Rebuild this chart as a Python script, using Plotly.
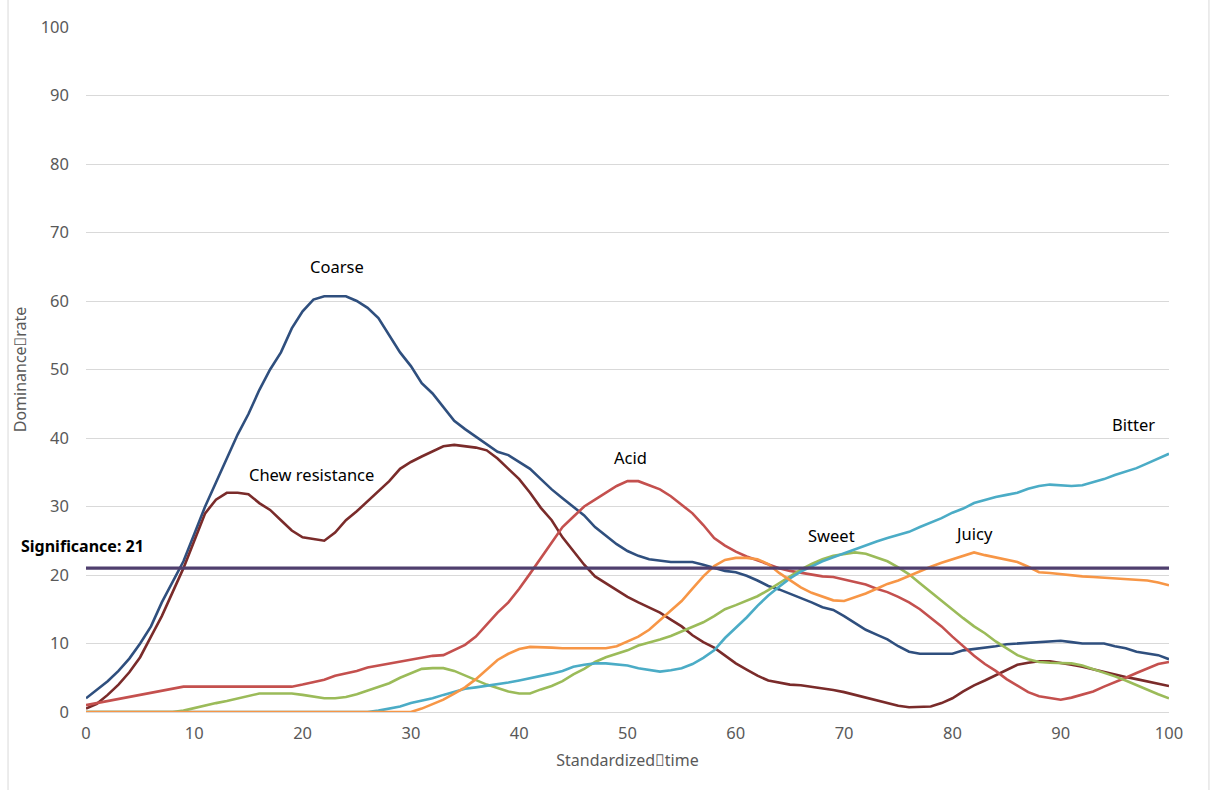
import plotly.graph_objects as go

# Standardized time axis (0..100, one sample per unit)
time = list(range(101))

coarse = [2.0, 3.2, 4.5, 6.0, 7.8, 10.0, 12.5, 16.0, 19.0, 22.0,
          26.0, 30.0, 33.5, 37.0, 40.5, 43.5, 47.0, 50.0, 52.5, 56.0,
          58.5, 60.2, 60.7, 60.7, 60.7, 60.0, 59.0, 57.5, 55.0, 52.5,
          50.5, 48.0, 46.5, 44.5, 42.5, 41.3, 40.2, 39.0, 38.0, 37.5,
          36.5, 35.5, 34.0, 32.5, 31.2, 30.0, 28.7, 27.0, 25.8, 24.5,
          23.5, 22.8, 22.3, 22.1, 21.9, 21.9, 21.9, 21.5, 21.0, 20.6,
          20.4, 19.9, 19.2, 18.4, 17.9, 17.3, 16.7, 16.0, 15.3, 14.9,
          14.0, 13.0, 12.0, 11.3, 10.6, 9.6, 8.8, 8.5, 8.5, 8.5,
          8.5, 9.0, 9.2, 9.3, 9.6, 9.9, 10.0, 10.2, 10.3, 10.4,
          10.4, 10.2, 10.0, 10.0, 10.0, 9.6, 9.3, 8.8, 8.6, 8.3,
          7.7]

chew_resistance = [0.5, 1.2, 2.5, 4.0, 5.8, 8.0, 11.0, 14.0, 17.5, 21.0,
                   25.0, 29.0, 31.0, 32.0, 32.0, 31.8, 30.5, 29.5, 28.0, 26.5,
                   25.5, 25.3, 25.0, 26.2, 28.0, 29.3, 30.8, 32.3, 33.7, 35.5,
                   36.5, 37.3, 38.0, 38.8, 39.0, 38.8, 38.6, 38.2, 37.0, 35.5,
                   34.0, 32.0, 29.8, 28.0, 25.5, 23.5, 21.5, 19.8, 18.8, 17.8,
                   16.8, 16.0, 15.2, 14.5, 13.5, 12.5, 11.2, 10.2, 9.4, 8.3,
                   7.1, 6.2, 5.3, 4.6, 4.3, 4.0, 3.9, 3.7, 3.4, 3.2,
                   2.9, 2.5, 2.1, 1.7, 1.3, 0.9, 0.7, 0.7, 0.8, 1.3,
                   2.0, 3.0, 3.9, 4.6, 5.4, 6.2, 6.9, 7.2, 7.4, 7.4,
                   7.2, 6.9, 6.6, 6.2, 5.8, 5.4, 5.1, 4.8, 4.5, 4.1,
                   3.8]

acid = [1.0, 1.3, 1.6, 1.9, 2.2, 2.5, 2.8, 3.2, 3.5, 3.7,
        3.7, 3.7, 3.7, 3.7, 3.7, 3.7, 3.7, 3.7, 3.7, 3.7,
        4.0, 4.3, 4.7, 5.3, 5.6, 6.0, 6.5, 6.8, 7.0, 7.3,
        7.7, 8.0, 8.2, 8.3, 9.0, 9.8, 11.0, 12.7, 14.5, 16.0,
        18.0, 20.2, 22.5, 24.8, 27.0, 28.5, 30.0, 31.0, 32.0, 33.0,
        33.7, 33.7, 33.1, 32.5, 31.5, 30.2, 29.0, 27.3, 25.4, 24.3,
        23.4, 22.7, 22.1, 21.5, 21.0, 20.6, 20.3, 20.0, 19.8, 19.7,
        19.3, 19.0, 18.6, 18.0, 17.5, 16.8, 16.0, 15.0, 13.8, 12.5,
        11.0, 9.6, 8.2, 7.0, 6.0, 4.8, 3.8, 2.9, 2.3, 2.0,
        1.8, 2.1, 2.5, 3.0, 3.7, 4.3, 5.0, 5.7, 6.3, 7.0,
        7.3]

sweet = [0.0, 0.0, 0.0, 0.0, 0.0, 0.0, 0.0, 0.0, 0.0, 0.2,
         0.6, 1.0, 1.3, 1.6, 2.0, 2.4, 2.7, 2.7, 2.7, 2.7,
         2.5, 2.2, 2.0, 2.0, 2.2, 2.6, 3.1, 3.6, 4.2, 5.0,
         5.7, 6.3, 6.4, 6.4, 6.0, 5.3, 4.6, 4.0, 3.5, 3.0,
         2.7, 2.7, 3.3, 3.8, 4.5, 5.5, 6.3, 7.3, 8.0, 8.5,
         9.0, 9.7, 10.1, 10.6, 11.1, 11.8, 12.5, 13.1, 14.0, 15.0,
         15.6, 16.3, 16.9, 17.8, 18.8, 19.8, 20.8, 21.6, 22.3, 22.8,
         23.1, 23.3, 23.1, 22.6, 22.0, 21.1, 20.1, 18.8, 17.5, 16.3,
         15.0, 13.7, 12.5, 11.5, 10.3, 9.3, 8.3, 7.7, 7.3, 7.2,
         7.2, 7.1, 6.8, 6.3, 5.8, 5.2, 4.6, 3.9, 3.3, 2.6,
         2.0]

bitter = [0.0, 0.0, 0.0, 0.0, 0.0, 0.0, 0.0, 0.0, 0.0, 0.0,
          0.0, 0.0, 0.0, 0.0, 0.0, 0.0, 0.0, 0.0, 0.0, 0.0,
          0.0, 0.0, 0.0, 0.0, 0.0, 0.0, 0.0, 0.2, 0.5, 0.8,
          1.3, 1.6, 2.0, 2.5, 2.9, 3.4, 3.6, 3.8, 4.0, 4.3,
          4.6, 4.9, 5.3, 5.6, 6.0, 6.6, 6.9, 7.1, 7.1, 7.0,
          6.8, 6.4, 6.1, 5.9, 6.1, 6.4, 7.0, 7.9, 9.0, 10.8,
          12.3, 13.8, 15.5, 17.0, 18.3, 19.5, 20.5, 21.3, 22.0, 22.6,
          23.2, 23.8, 24.4, 24.9, 25.4, 25.8, 26.3, 27.0, 27.6, 28.3,
          29.1, 29.7, 30.5, 31.0, 31.4, 31.7, 32.0, 32.6, 33.0, 33.2,
          33.1, 33.0, 33.1, 33.5, 34.0, 34.6, 35.1, 35.6, 36.3, 37.0,
          37.7]

juicy = [0.0, 0.0, 0.0, 0.0, 0.0, 0.0, 0.0, 0.0, 0.0, 0.0,
         0.0, 0.0, 0.0, 0.0, 0.0, 0.0, 0.0, 0.0, 0.0, 0.0,
         0.0, 0.0, 0.0, 0.0, 0.0, 0.0, 0.0, 0.0, 0.0, 0.0,
         0.0, 0.5, 1.2, 1.8, 2.7, 3.6, 4.8, 6.2, 7.6, 8.5,
         9.2, 9.5, 9.5, 9.4, 9.3, 9.3, 9.3, 9.3, 9.3, 9.6,
         10.3, 11.0, 12.0, 13.4, 14.7, 16.2, 18.0, 19.8, 21.3, 22.2,
         22.5, 22.5, 22.3, 21.6, 20.3, 19.2, 18.2, 17.4, 16.8, 16.3,
         16.2, 16.7, 17.3, 18.0, 18.7, 19.2, 19.9, 20.5, 21.2, 21.8,
         22.3, 22.9, 23.3, 22.9, 22.6, 22.3, 21.9, 21.2, 20.4, 20.3,
         20.1, 19.9, 19.8, 19.7, 19.6, 19.5, 19.5, 19.4, 19.2, 18.9,
         18.5]

significance = 21

series = [
    ("Coarse", coarse, "#2F4F7E"),
    ("Chew resistance", chew_resistance, "#7A2B2A"),
    ("Acid", acid, "#C4504E"),
    ("Sweet", sweet, "#9BBB59"),
    ("Bitter", bitter, "#4BACC6"),
    ("Juicy", juicy, "#F79646"),
]

# Curve name labels placed near each curve (data coordinates)
label_text = ["Coarse", "Chew resistance", "Acid", "Sweet", "Juicy", "Bitter"]
label_x = [23.2, 20.8, 50.3, 68.8, 82.0, 96.7]
label_y = [65.0, 34.7, 37.1, 25.8, 26.1, 41.9]

fig = go.Figure()
for name, vals, color in series:
    fig.add_trace(go.Scatter(x=time, y=vals, mode="lines", name=name,
                             line=dict(color=color, width=2.6),
                             hoverinfo="x+y+name"))

fig.add_trace(go.Scatter(x=[time[0], time[-1]], y=[significance, significance],
                         mode="lines", name="Significance",
                         line=dict(color="#4F3F6E", width=3.2)))

annotations = []
for t, ax_, ay_ in zip(label_text, label_x, label_y):
    annotations.append(dict(x=ax_, y=ay_, xref="x", yref="y", text=t,
                            showarrow=False, font=dict(size=16.5, color="#000000")))

annotations.append(dict(x=-0.0615, y=significance + 3.2, xref="paper", yref="y",
                        xanchor="left", yanchor="middle",
                        text=f"<b>Significance: {significance}</b>",
                        showarrow=False, font=dict(size=16, color="#000000")))

fig.update_layout(
    width=1211, height=790,
    margin=dict(l=86, r=42, t=27, b=78),
    paper_bgcolor="white", plot_bgcolor="white",
    showlegend=False,
    font=dict(family="Noto Sans, Open Sans, sans-serif", color="#595959"),
    annotations=annotations,
    shapes=[dict(type="rect", xref="paper", yref="paper",
                 x0=-0.072, x1=1.0369, y0=-0.117, y1=1.045,
                 line=dict(color="#D9D9D9", width=1), layer="below")],
)

fig.update_xaxes(
    range=[0, 100], dtick=10, tick0=0, showgrid=False,
    showline=True, linecolor="#D9D9D9", linewidth=1,
    ticks="", tickfont=dict(size=16.5, color="#595959"),
    ticklabelstandoff=6,
    title=dict(text="Standardized\uf020time", font=dict(size=16, color="#595959"),
               standoff=12),
    zeroline=False,
)
fig.update_yaxes(
    range=[0, 100], dtick=10, tick0=0, showgrid=True,
    gridcolor="#D9D9D9", gridwidth=1, zeroline=False,
    ticks="", tickfont=dict(size=16.5, color="#595959"),
    ticklabelstandoff=16,
    title=dict(text="Dominance\uf020rate", font=dict(size=16, color="#595959"),
               standoff=10),
)

fig.write_html("out.html")
